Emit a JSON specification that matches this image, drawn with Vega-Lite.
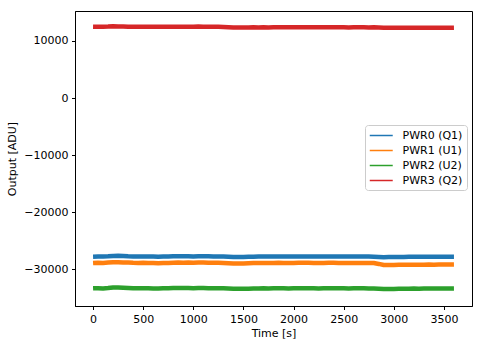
{
  "$schema": "https://vega.github.io/schema/vega-lite/v6.json",
  "width": 397,
  "height": 295,
  "autosize": "none",
  "padding": {"left": 75, "top": 11, "right": 11, "bottom": 41},
  "background": "white",
  "config": {
    "font": "DejaVu Sans",
    "view": {"stroke": "black", "strokeWidth": 1},
    "axis": {
      "grid": false,
      "domainColor": "black",
      "tickColor": "black",
      "tickSize": 3.5,
      "labelFontSize": 11,
      "titleFontSize": 11,
      "labelColor": "black",
      "titleColor": "black",
      "titleFontWeight": "normal",
      "labelPadding": 3.5
    }
  },
  "data": {
    "values": [
      {"t":0,"a":-27780,"b":-28900,"c":-33330,"d":12480},
      {"t":50,"a":-27740,"b":-28850,"c":-33300,"d":12470},
      {"t":100,"a":-27760,"b":-28870,"c":-33340,"d":12500},
      {"t":150,"a":-27720,"b":-28820,"c":-33280,"d":12520},
      {"t":200,"a":-27660,"b":-28760,"c":-33180,"d":12560},
      {"t":250,"a":-27640,"b":-28740,"c":-33160,"d":12540},
      {"t":300,"a":-27680,"b":-28780,"c":-33210,"d":12520},
      {"t":350,"a":-27720,"b":-28820,"c":-33250,"d":12500},
      {"t":400,"a":-27740,"b":-28860,"c":-33290,"d":12490},
      {"t":450,"a":-27760,"b":-28880,"c":-33320,"d":12480},
      {"t":500,"a":-27730,"b":-28840,"c":-33300,"d":12470},
      {"t":550,"a":-27750,"b":-28870,"c":-33330,"d":12490},
      {"t":600,"a":-27770,"b":-28900,"c":-33350,"d":12480},
      {"t":650,"a":-27780,"b":-28940,"c":-33360,"d":12470},
      {"t":700,"a":-27760,"b":-28910,"c":-33320,"d":12480},
      {"t":750,"a":-27740,"b":-28870,"c":-33300,"d":12490},
      {"t":800,"a":-27720,"b":-28840,"c":-33270,"d":12500},
      {"t":850,"a":-27700,"b":-28820,"c":-33260,"d":12510},
      {"t":900,"a":-27710,"b":-28830,"c":-33270,"d":12500},
      {"t":950,"a":-27720,"b":-28820,"c":-33280,"d":12490},
      {"t":1000,"a":-27730,"b":-28850,"c":-33300,"d":12500},
      {"t":1050,"a":-27700,"b":-28810,"c":-33270,"d":12520},
      {"t":1100,"a":-27710,"b":-28800,"c":-33280,"d":12510},
      {"t":1150,"a":-27720,"b":-28830,"c":-33290,"d":12490},
      {"t":1200,"a":-27730,"b":-28850,"c":-33310,"d":12480},
      {"t":1250,"a":-27740,"b":-28860,"c":-33300,"d":12470},
      {"t":1300,"a":-27750,"b":-28880,"c":-33320,"d":12460},
      {"t":1350,"a":-27780,"b":-28920,"c":-33350,"d":12420},
      {"t":1400,"a":-27820,"b":-28960,"c":-33390,"d":12380},
      {"t":1450,"a":-27850,"b":-28980,"c":-33420,"d":12360},
      {"t":1500,"a":-27830,"b":-28960,"c":-33400,"d":12370},
      {"t":1550,"a":-27800,"b":-28930,"c":-33380,"d":12380},
      {"t":1600,"a":-27780,"b":-28900,"c":-33360,"d":12390},
      {"t":1650,"a":-27770,"b":-28890,"c":-33340,"d":12380},
      {"t":1700,"a":-27760,"b":-28880,"c":-33330,"d":12390},
      {"t":1750,"a":-27770,"b":-28890,"c":-33340,"d":12380},
      {"t":1800,"a":-27750,"b":-28870,"c":-33320,"d":12400},
      {"t":1850,"a":-27740,"b":-28860,"c":-33310,"d":12410},
      {"t":1900,"a":-27750,"b":-28880,"c":-33330,"d":12400},
      {"t":1950,"a":-27760,"b":-28890,"c":-33340,"d":12390},
      {"t":2000,"a":-27750,"b":-28870,"c":-33320,"d":12400},
      {"t":2050,"a":-27740,"b":-28860,"c":-33310,"d":12410},
      {"t":2100,"a":-27730,"b":-28840,"c":-33300,"d":12420},
      {"t":2150,"a":-27740,"b":-28860,"c":-33310,"d":12410},
      {"t":2200,"a":-27750,"b":-28880,"c":-33330,"d":12400},
      {"t":2250,"a":-27760,"b":-28890,"c":-33340,"d":12390},
      {"t":2300,"a":-27750,"b":-28870,"c":-33320,"d":12400},
      {"t":2350,"a":-27740,"b":-28860,"c":-33310,"d":12410},
      {"t":2400,"a":-27730,"b":-28850,"c":-33300,"d":12420},
      {"t":2450,"a":-27750,"b":-28870,"c":-33320,"d":12400},
      {"t":2500,"a":-27760,"b":-28880,"c":-33330,"d":12390},
      {"t":2550,"a":-27770,"b":-28900,"c":-33340,"d":12380},
      {"t":2600,"a":-27760,"b":-28890,"c":-33330,"d":12390},
      {"t":2650,"a":-27750,"b":-28870,"c":-33320,"d":12400},
      {"t":2700,"a":-27760,"b":-28880,"c":-33330,"d":12390},
      {"t":2750,"a":-27770,"b":-28890,"c":-33340,"d":12380},
      {"t":2800,"a":-27780,"b":-28900,"c":-33350,"d":12390},
      {"t":2850,"a":-27820,"b":-29050,"c":-33400,"d":12370},
      {"t":2900,"a":-27860,"b":-29250,"c":-33460,"d":12330},
      {"t":2950,"a":-27850,"b":-29230,"c":-33450,"d":12320},
      {"t":3000,"a":-27840,"b":-29220,"c":-33430,"d":12330},
      {"t":3050,"a":-27830,"b":-29210,"c":-33420,"d":12320},
      {"t":3100,"a":-27820,"b":-29200,"c":-33400,"d":12310},
      {"t":3150,"a":-27800,"b":-29190,"c":-33380,"d":12320},
      {"t":3200,"a":-27790,"b":-29180,"c":-33370,"d":12330},
      {"t":3250,"a":-27800,"b":-29190,"c":-33380,"d":12320},
      {"t":3300,"a":-27790,"b":-29180,"c":-33370,"d":12330},
      {"t":3350,"a":-27780,"b":-29170,"c":-33360,"d":12320},
      {"t":3400,"a":-27790,"b":-29180,"c":-33370,"d":12330},
      {"t":3450,"a":-27780,"b":-29170,"c":-33360,"d":12320},
      {"t":3500,"a":-27790,"b":-29160,"c":-33370,"d":12330},
      {"t":3550,"a":-27780,"b":-29170,"c":-33360,"d":12320},
      {"t":3600,"a":-27780,"b":-29160,"c":-33350,"d":12330}
    ]
  },
  "transform": [
    {"fold": ["a", "b", "c", "d"], "as": ["s", "v"]}
  ],
  "mark": {"type": "line", "strokeWidth": 4.5, "strokeJoin": "round"},
  "encoding": {
    "x": {
      "field": "t",
      "type": "quantitative",
      "scale": {"domain": [-180, 3780], "nice": false, "zero": false},
      "axis": {"values": [0, 500, 1000, 1500, 2000, 2500, 3000, 3500], "format": "d", "title": "Time [s]", "titlePadding": 3}
    },
    "y": {
      "field": "v",
      "type": "quantitative",
      "scale": {"domain": [-36420, 15250], "nice": false, "zero": false},
      "axis": {"values": [-30000, -20000, -10000, 0, 10000], "format": "d", "title": "Output [ADU]", "titlePadding": 6}
    },
    "color": {
      "field": "s",
      "type": "nominal",
      "scale": {"domain": ["a", "b", "c", "d"], "range": ["#1f77b4", "#ff7f0e", "#2ca02c", "#d62728"]},
      "legend": {
        "title": null,
        "orient": "none",
        "legendX": 290,
        "legendY": 114,
        "labelExpr": "{'a':'PWR0 (Q1)','b':'PWR1 (U1)','c':'PWR2 (U2)','d':'PWR3 (Q2)'}[datum.label]",
        "symbolType": "M-1,0H3",
        "symbolSize": 132,
        "symbolStrokeWidth": 1.5,
        "labelFontSize": 11,
        "labelColor": "black",
        "rowPadding": 3,
        "padding": 4,
        "strokeColor": "#cccccc",
        "fillColor": "white",
        "cornerRadius": 3,
        "labelOffset": 20.5
      }
    }
  }
}
